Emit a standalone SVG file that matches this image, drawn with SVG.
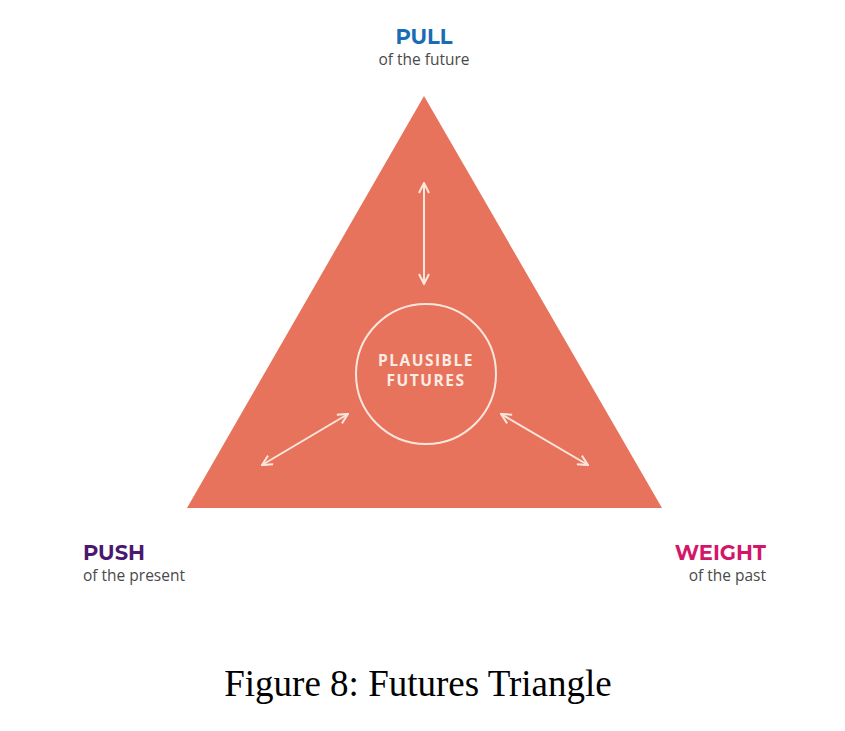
<svg xmlns="http://www.w3.org/2000/svg" width="845" height="731" viewBox="0 0 845 731">
<defs>
<style>
.lbl{font-family:"Montserrat","Open Sans","Liberation Sans",sans-serif;font-weight:bold;font-size:21px}
.sub{font-family:"Open Sans","Liberation Sans",sans-serif;font-size:15.5px;fill:#4a4a4a}
.arrow{stroke:#fbe6dc;stroke-width:2;fill:none;marker-start:url(#ah);marker-end:url(#ah)}
</style>
<marker id="ah" viewBox="0 0 12 12" refX="11" refY="6" markerWidth="12" markerHeight="12" markerUnits="userSpaceOnUse" orient="auto-start-reverse">
<path d="M1,1 L11,6 L1,11" fill="none" stroke="#fbe6dc" stroke-width="2"/>
</marker>
</defs>
<rect width="845" height="731" fill="#ffffff"/>
<g id="triangle">
<polygon points="424,96 187,508 662,508" fill="#e8735c"/>
</g>
<g id="plausible">
<circle cx="426" cy="374" r="70" fill="none" stroke="#fbe6dc" stroke-width="2"/>
<text x="426" y="366" text-anchor="middle" font-family="Open Sans, Liberation Sans, sans-serif" font-weight="bold" font-size="15.5" letter-spacing="1.5" fill="#fcece4">PLAUSIBLE</text>
<text x="426" y="386" text-anchor="middle" font-family="Open Sans, Liberation Sans, sans-serif" font-weight="bold" font-size="15.5" letter-spacing="1.5" fill="#fcece4">FUTURES</text>
</g>
<g id="connectors">
<line class="arrow" x1="424" y1="183" x2="424" y2="284"/>
<line class="arrow" x1="262" y1="465" x2="348" y2="414"/>
<line class="arrow" x1="501" y1="414" x2="588" y2="465"/>
</g>
<g id="pull">
<text class="lbl" x="424" y="44" text-anchor="middle" fill="#1a6cb4">PULL</text>
<text class="sub" x="424" y="65" text-anchor="middle">of the future</text>
</g>
<g id="push">
<text class="lbl" x="83" y="560" fill="#4b1870">PUSH</text>
<text class="sub" x="83" y="581">of the present</text>
</g>
<g id="weight">
<text class="lbl" x="766" y="560" text-anchor="end" fill="#d2176b">WEIGHT</text>
<text class="sub" x="766" y="581" text-anchor="end">of the past</text>
</g>
<g id="caption">
<text x="418" y="696" text-anchor="middle" font-family="Liberation Serif, serif" font-size="37" fill="#000">Figure 8: Futures Triangle</text>
</g>
</svg>
